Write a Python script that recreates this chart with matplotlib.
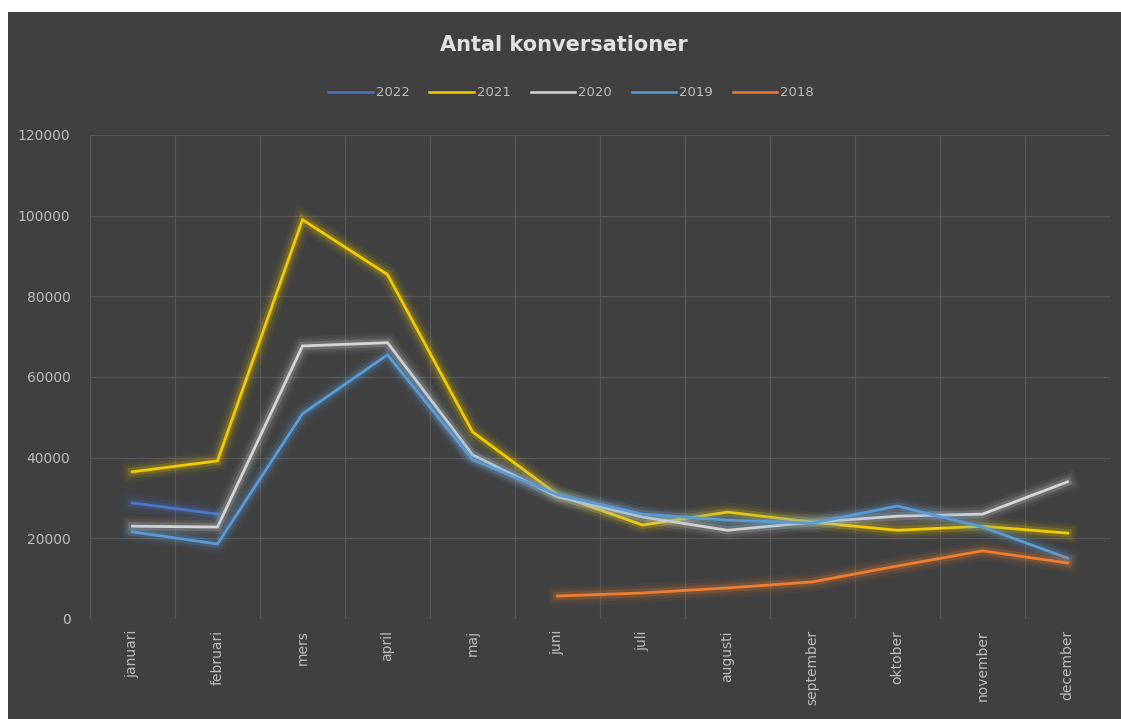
import matplotlib
matplotlib.use("Agg")
import matplotlib.pyplot as plt
import matplotlib.patheffects as pe
from matplotlib.patches import Rectangle
import numpy as np

months = ["januari", "februari", "mers", "april", "maj", "juni", "juli",
          "augusti", "september", "oktober", "november", "december"]

y2022 = [28800, 26000]
y2021 = [36500, 39200, 99000, 85400, 46400, 30800, 23300, 26500, 24000, 22000, 23000, 21300]
y2020 = [23000, 22800, 67700, 68500, 40700, 30300, 25300, 22000, 24000, 25500, 26000, 34000]
y2019 = [21600, 18600, 50900, 65500, 39500, 30800, 26000, 24500, 23800, 28000, 22800, 15100]
y2018 = [5700, 6450, 7700, 9200, 13150, 16900, 13900]   # juni .. december

yticks = [0, 20000, 40000, 60000, 80000, 100000, 120000]

series = [
    ("2022", list(range(0, 2)), y2022, "#4a76c8"),
    ("2021", list(range(0, 12)), y2021, "#f0cc00"),
    ("2020", list(range(0, 12)), y2020, "#d6d6d6"),
    ("2019", list(range(0, 12)), y2019, "#5b9bd5"),
    ("2018", list(range(5, 12)), y2018, "#ed7d31"),
]

W, H = 1121, 719
fig = plt.figure(figsize=(W / 100, H / 100), dpi=100, facecolor="white")
bg = "#404040"
fig.patches.append(Rectangle((8 / W, 0), 1 - 8 / W, 1 - 12 / H,
                             transform=fig.transFigure, facecolor=bg,
                             edgecolor="none", zorder=-10))

ax = fig.add_axes([90 / W, 1 - 619 / H, (1110 - 90) / W, (619 - 135) / H])
ax.set_facecolor(bg)
ax.patch.set_alpha(0)

grid_c = "#575757"
ax.set_ylim(0, 120000)
ax.set_xlim(-0.5, 11.5)
ax.set_yticks(yticks)
ax.set_yticklabels([str(v) for v in yticks])
ax.set_xticks(range(12))
ax.set_xticklabels(months, rotation=90)
ax.grid(False)
for v in yticks:
    ax.axhline(v, color=grid_c, lw=0.9, zorder=0)
for x in np.arange(-0.5, 12, 1):
    ax.axvline(x, color=grid_c, lw=0.9, zorder=0)
for s in ax.spines.values():
    s.set_visible(False)
ax.tick_params(which="both", length=0, colors="#bdbdbd", labelsize=10)
ax.tick_params(axis="y", pad=14)
ax.tick_params(axis="x", pad=8)

handles = []
for label, xs, ys, col in series:
    glow = [
        pe.Stroke(linewidth=14, foreground=col, alpha=0.05),
        pe.Stroke(linewidth=10, foreground=col, alpha=0.09),
        pe.Stroke(linewidth=6, foreground=col, alpha=0.2),
        pe.Normal(),
    ]
    ln, = ax.plot(xs, ys, color=col, lw=2.0, solid_joinstyle="miter",
                  path_effects=glow, label=label, zorder=3)
    handles.append(ln)

fig.text(564 / W, 1 - 45 / H, "Antal konversationer", ha="center", va="center",
         fontsize=15, fontweight="bold", color="#e2e2e2")

leg = fig.legend(handles=[plt.Line2D([], [], color=h.get_color(), lw=1.8) for h in handles],
                 labels=[h.get_label() for h in handles],
                 loc="center", bbox_to_anchor=(571 / W, 1 - 93 / H), ncol=5,
                 frameon=False, fontsize=9.5, handlelength=3.4, handletextpad=0.2,
                 columnspacing=1.5, labelcolor="#bdbdbd")

fig.savefig("out.png", dpi=100, facecolor="white")
